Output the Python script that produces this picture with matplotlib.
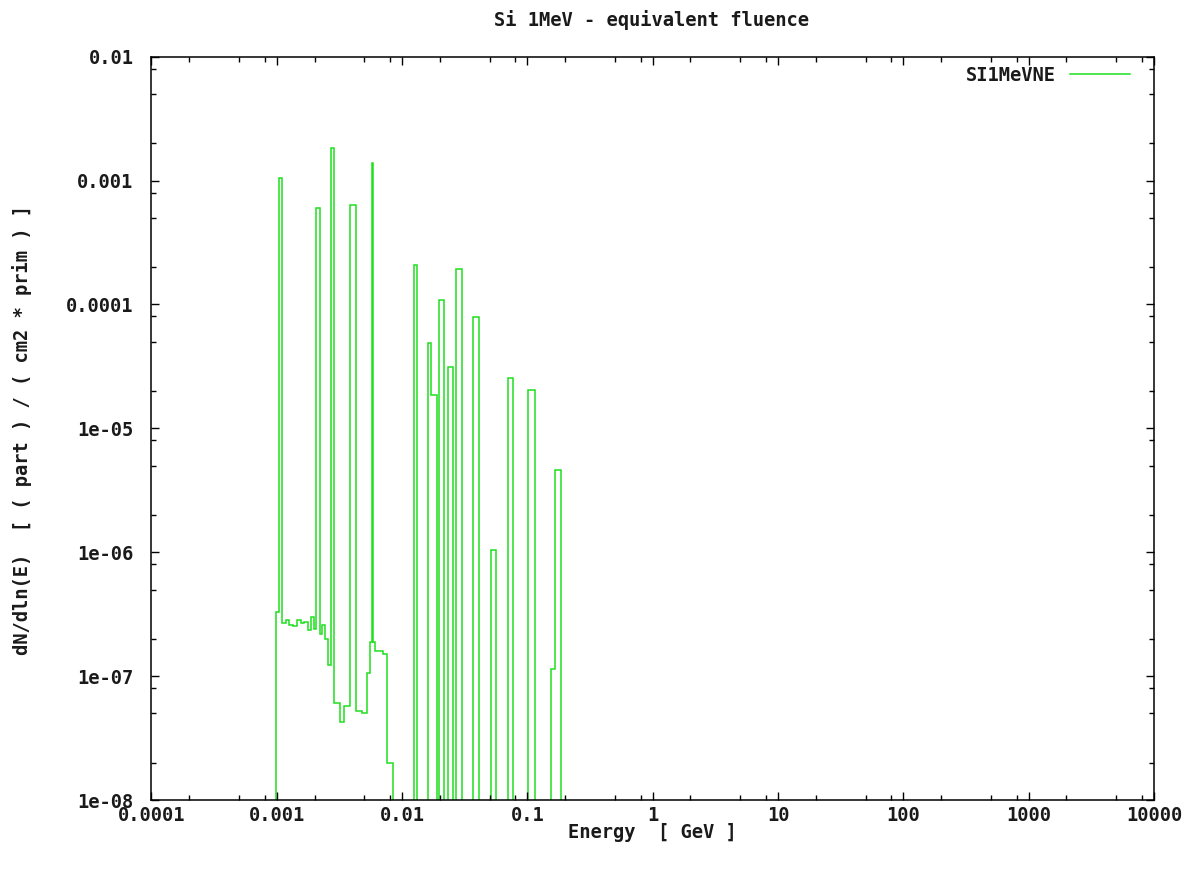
import numpy as np
import matplotlib
matplotlib.use("Agg")
import matplotlib.pyplot as plt
from matplotlib.ticker import FixedLocator, FixedFormatter, LogLocator, NullFormatter

# Step histogram: bin edges in GeV and dN/dln(E) per bin (0 = empty bin)
energy_edges = [
    9.85e-4, 1.041e-3, 1.11e-3, 1.184e-3, 1.258e-3, 1.354e-3, 1.457e-3,
    1.551e-3, 1.657e-3, 1.764e-3, 1.875e-3, 1.992e-3, 2.055e-3, 2.212e-3,
    2.282e-3, 2.424e-3, 2.576e-3, 2.707e-3, 2.860e-3, 3.194e-3, 3.438e-3,
    3.87e-3, 4.25e-3, 4.759e-3, 5.217e-3, 5.543e-3, 5.719e-3, 5.91e-3,
    6.076e-3, 7.079e-3, 7.534e-3, 8.508e-3, 1.245e-2, 1.322e-2, 1.601e-2,
    1.710e-2, 1.888e-2, 1.981e-2, 2.160e-2, 2.337e-2, 2.562e-2, 2.678e-2,
    3.022e-2, 3.659e-2, 4.12e-2, 5.124e-2, 5.616e-2, 6.963e-2, 7.632e-2,
    0.1017, 0.1150, 0.1543, 0.1661, 0.1855,
]
fluence = [
    3.3e-7, 1.04e-3, 2.7e-7, 2.85e-7, 2.6e-7, 2.55e-7, 2.85e-7,
    2.7e-7, 2.75e-7, 2.35e-7, 3.0e-7, 2.4e-7, 6.0e-4, 2.2e-7,
    2.6e-7, 2.0e-7, 1.24e-7, 1.82e-3, 6.1e-8, 4.3e-8, 5.7e-8,
    6.3e-4, 5.2e-8, 5.0e-8, 1.06e-7, 1.9e-7, 1.38e-3, 1.9e-7,
    1.6e-7, 1.5e-7, 2.0e-8, 0, 2.08e-4, 0, 4.9e-5,
    1.86e-5, 0, 1.09e-4, 0, 3.1e-5, 0, 1.94e-4,
    0, 7.98e-5, 0, 1.04e-6, 0, 2.53e-5, 0,
    2.04e-5, 0, 1.14e-7, 4.61e-6,
]

x_ticks = [1e-4, 1e-3, 1e-2, 1e-1, 1, 10, 100, 1000, 10000]
x_tick_labels = ["0.0001", "0.001", "0.01", "0.1", "1", "10", "100", "1000", "10000"]
y_ticks = [1e-8, 1e-7, 1e-6, 1e-5, 1e-4, 1e-3, 1e-2]
y_tick_labels = ["1e-08", "1e-07", "1e-06", "1e-05", "0.0001", "0.001", "0.01"]

FLOOR = 1e-12  # empty bins drop below the visible range
LINE = "#1ee01e"
TEXT = "#1a1a1a"
MONO = "DejaVu Sans Mono"

fig = plt.figure(figsize=(12.04, 8.75), dpi=100)
ax = fig.add_axes([0.1258, 0.0857, 0.8327, 0.8495])

vals = np.where(np.array(fluence) > 0, fluence, FLOOR)
ax.stairs(vals, energy_edges, baseline=FLOOR, color=LINE, linewidth=1.1,
          label="SI1MeVNE")

ax.set_xscale("log")
ax.set_yscale("log")
ax.set_xlim(1e-4, 1e4)
ax.set_ylim(1e-8, 1e-2)

ax.xaxis.set_major_locator(FixedLocator(x_ticks))
ax.xaxis.set_major_formatter(FixedFormatter(x_tick_labels))
ax.yaxis.set_major_locator(FixedLocator(y_ticks))
ax.yaxis.set_major_formatter(FixedFormatter(y_tick_labels))
for axis in (ax.xaxis, ax.yaxis):
    axis.set_minor_locator(LogLocator(base=10, subs=[2, 5, 8], numticks=20))
    axis.set_minor_formatter(NullFormatter())

ax.tick_params(which="both", direction="in", top=True, right=True,
               color="black", width=1.0)
ax.tick_params(which="major", length=6)
ax.tick_params(which="minor", length=3.5)
ax.tick_params(axis="x", which="major", pad=4)
ax.tick_params(axis="y", which="major", pad=13)
for lbl in ax.get_xticklabels() + ax.get_yticklabels():
    lbl.set_fontfamily(MONO)
    lbl.set_fontweight("bold")
    lbl.set_fontsize(13.5)
    lbl.set_color(TEXT)
for spine in ax.spines.values():
    spine.set_linewidth(1.1)
    spine.set_color("black")

fig.text(0.5415, 1 - 20 / 875, "Si 1MeV - equivalent fluence", ha="center",
         va="center", family=MONO, weight="bold", fontsize=13.5, color=TEXT)
fig.text(0.5415, 1 - 833 / 875, "Energy  [ GeV ]", ha="center", va="center",
         family=MONO, weight="bold", fontsize=13.5, color=TEXT)
fig.text(22 / 1204, 1 - 430 / 875, "dN/dln(E)  [ ( part ) / ( cm2 * prim ) ]",
         ha="center", va="center", rotation=90, family=MONO, weight="bold",
         fontsize=13.5, color=TEXT)

leg = ax.legend(loc="upper right", bbox_to_anchor=(0.976, 0.9875),
                frameon=False, markerfirst=False, handlelength=3.2,
                handletextpad=0.75, borderpad=0, borderaxespad=0,
                prop={"family": MONO, "weight": "bold", "size": 13.5})
for t in leg.get_texts():
    t.set_color(TEXT)

fig.savefig("out.png", dpi=100)
